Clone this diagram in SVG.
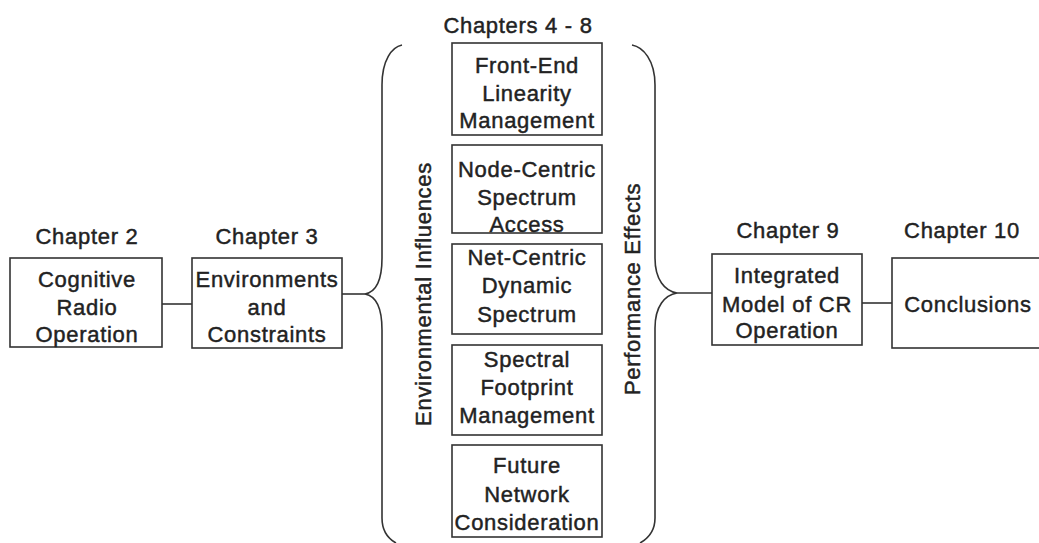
<svg xmlns="http://www.w3.org/2000/svg" width="1039" height="543" viewBox="0 0 1039 543">
<style>
.box{fill:#fff;stroke:#333;stroke-width:1.6}
.t{font-family:"Liberation Sans",Arial,sans-serif;font-size:22px;fill:#222;stroke:#222;stroke-width:0.45;text-anchor:middle;letter-spacing:0.7px}
.ln{fill:none;stroke:#333;stroke-width:1.6}
</style>
<rect width="1039" height="543" fill="#fff"/>
<g id="connectors">
<path class="ln" d="M162,304 H192"/>
<path class="ln" d="M342,294 H365"/>
<path class="ln" d="M677,293 H712"/>
<path class="ln" d="M862,303 H892"/>
<path class="ln" d="M402,45 C392,47 382,60 382,85 L382,258 C382,280 376,292 365,294 C376,296 382,308 382,330 L382,518 C382,530 387,538 396,543"/>
<path class="ln" d="M632,45 C643,47 655,60 655,85 L655,258 C655,280 665,291 677,293 C665,295 655,306 655,328 L655,518 C655,530 649,538 640,543"/>
</g>
<g id="lbl-ch2"><text class="t" x="87" y="244">Chapter 2</text></g>
<g id="lbl-ch3"><text class="t" x="267" y="244">Chapter 3</text></g>
<g id="lbl-ch48"><text class="t" x="518" y="33">Chapters 4 - 8</text></g>
<g id="lbl-ch9"><text class="t" x="788" y="238">Chapter 9</text></g>
<g id="lbl-ch10"><text class="t" x="962" y="238">Chapter 10</text></g>
<g id="lbl-env"><text class="t" transform="translate(431,294) rotate(-90)">Environmental Influences</text></g>
<g id="lbl-perf"><text class="t" transform="translate(640,289) rotate(-90)">Performance Effects</text></g>
<g id="n-cro">
<rect class="box" x="10" y="258" width="152" height="89"/>
<text class="t" x="87" y="287">Cognitive</text>
<text class="t" x="87" y="315">Radio</text>
<text class="t" x="87" y="342">Operation</text>
</g>
<g id="n-env">
<rect class="box" x="192" y="258" width="150" height="90"/>
<text class="t" x="267" y="287">Environments</text>
<text class="t" x="267" y="315">and</text>
<text class="t" x="267" y="342">Constraints</text>
</g>
<g id="n-fel">
<rect class="box" x="452" y="43" width="150" height="92"/>
<text class="t" x="527" y="73">Front-End</text>
<text class="t" x="527" y="101">Linearity</text>
<text class="t" x="527" y="128">Management</text>
</g>
<g id="n-ncsa">
<rect class="box" x="452" y="145" width="150" height="88"/>
<text class="t" x="527" y="177">Node-Centric</text>
<text class="t" x="527" y="205">Spectrum</text>
<text class="t" x="527" y="232">Access</text>
</g>
<g id="n-netc">
<rect class="box" x="452" y="244" width="150" height="90"/>
<text class="t" x="527" y="265">Net-Centric</text>
<text class="t" x="527" y="293">Dynamic</text>
<text class="t" x="527" y="322">Spectrum</text>
</g>
<g id="n-sfm">
<rect class="box" x="452" y="345" width="150" height="90"/>
<text class="t" x="527" y="367">Spectral</text>
<text class="t" x="527" y="395">Footprint</text>
<text class="t" x="527" y="423">Management</text>
</g>
<g id="n-fnc">
<rect class="box" x="452" y="445" width="150" height="92"/>
<text class="t" x="527" y="473">Future</text>
<text class="t" x="527" y="502">Network</text>
<text class="t" x="527" y="530">Consideration</text>
</g>
<g id="n-imc">
<rect class="box" x="712" y="254" width="150" height="91"/>
<text class="t" x="787" y="283">Integrated</text>
<text class="t" x="787" y="312">Model of CR</text>
<text class="t" x="787" y="338">Operation</text>
</g>
<g id="n-con">
<rect class="box" x="892" y="258" width="155" height="90"/>
<text class="t" x="968" y="312">Conclusions</text>
</g>
</svg>
